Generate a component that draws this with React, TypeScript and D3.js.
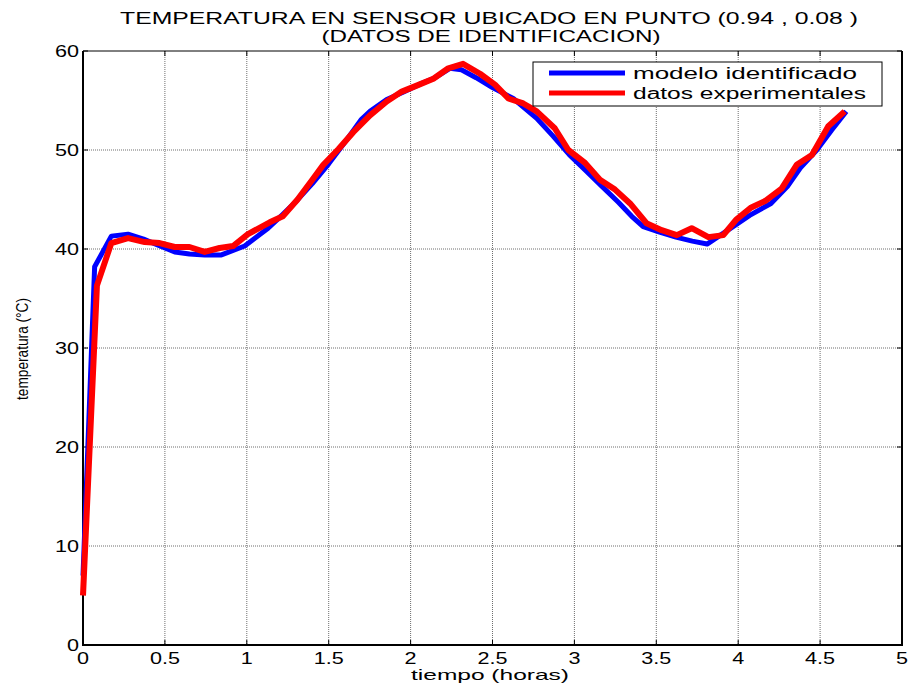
import React from "react";
import * as d3 from "d3";

// Time axis (hours) and temperature (°C) for the identified model
const modeloT: number[] = [
  0.0, 0.071, 0.173, 0.275, 0.37, 0.47, 0.56, 0.65, 0.743, 0.845, 0.987, 1.13,
  1.22, 1.3, 1.4, 1.5, 1.6, 1.7, 1.752, 1.854, 1.95, 2.05, 2.15, 2.24, 2.31,
  2.4, 2.5, 2.627, 2.77, 2.87, 2.97, 3.07, 3.17, 3.27, 3.35, 3.42, 3.52, 3.62,
  3.72, 3.81, 3.91, 4.07, 4.2, 4.3, 4.38, 4.48, 4.57, 4.66,
];
const modeloTemp: number[] = [
  7.0, 38.2, 41.3, 41.5, 41.0, 40.3, 39.7, 39.5, 39.4, 39.4, 40.3, 42.1,
  43.5, 44.8, 46.6, 48.6, 50.8, 53.1, 53.9, 55.1, 55.8, 56.6, 57.3, 58.25, 58.1,
  57.3, 56.3, 55.2, 53.2, 51.4, 49.5, 47.9, 46.3, 44.7, 43.3, 42.25, 41.7, 41.2,
  40.8, 40.5, 41.6, 43.4, 44.6, 46.3, 48.2, 50.0, 52.0, 53.9,
];

// Time axis (hours) and temperature (°C) for the experimental data
const datosT: number[] = [
  0.0, 0.085, 0.173, 0.275, 0.377, 0.468, 0.56, 0.65, 0.743, 0.834, 0.916,
  1.007, 1.14, 1.22, 1.31, 1.4, 1.467, 1.56, 1.65, 1.752, 1.854, 1.946, 2.037,
  2.139, 2.23, 2.32, 2.424, 2.515, 2.597, 2.688, 2.77, 2.88, 2.963, 3.065,
  3.156, 3.248, 3.34, 3.44, 3.533, 3.625, 3.716, 3.818, 3.909, 3.99, 4.08,
  4.17, 4.265, 4.357, 4.45, 4.55, 4.65,
];
const datosTemp: number[] = [
  5.0, 36.3, 40.6, 41.1, 40.7, 40.6, 40.2, 40.2, 39.7, 40.1, 40.3,
  41.5, 42.7, 43.3, 45.0, 47.0, 48.5, 50.1, 51.8, 53.5, 54.9, 55.9, 56.5,
  57.2, 58.25, 58.7, 57.7, 56.6, 55.2, 54.7, 53.9, 52.2, 50.0, 48.7,
  47.0, 46.0, 44.6, 42.6, 41.9, 41.4, 42.1, 41.2, 41.4, 43.0, 44.2,
  44.9, 46.1, 48.5, 49.5, 52.4, 53.9,
];

const xTicks: number[] = [0, 0.5, 1, 1.5, 2, 2.5, 3, 3.5, 4, 4.5, 5];
const yTicks: number[] = [0, 10, 20, 30, 40, 50, 60];

const titleLines: string[] = [
  "TEMPERATURA EN SENSOR UBICADO EN PUNTO (0.94 , 0.08 )",
  "(DATOS DE IDENTIFICACION)",
];
const legendLabels: string[] = ["modelo identificado", "datos experimentales"];
const seriesColors: string[] = ["#0000ff", "#ff0000"];

const W = 911;
const H = 686;
const left = 83;
const right = 902;
const top = 51;
const bottom = 645;
const FONT = "'Liberation Sans', Arial, Helvetica, sans-serif";
// tick labels are drawn horizontally widened
const LABEL_STRETCH = 1.35;

export default function App() {
  const x = d3.scaleLinear().domain([0, 5]).range([left, right]);
  const y = d3.scaleLinear().domain([0, 60]).range([bottom, top]);

  const line = d3
    .line<[number, number]>()
    .x((d) => x(d[0]))
    .y((d) => y(d[1]));

  const modelo: [number, number][] = modeloT.map((t, i) => [t, modeloTemp[i]]);
  const datos: [number, number][] = datosT.map((t, i) => [t, datosTemp[i]]);

  const tickLen = 5;
  const legX = 533;
  const legY = 62;
  const legW = 349;
  const legH = 44;

  return (
    <div style={{ position: "fixed", left: 0, top: 0 }}>
      <svg width={W} height={H} style={{ display: "block", background: "#fff" }}>
        <rect x={0} y={0} width={W} height={H} fill="#fff" />

        {/* grid */}
        <g stroke="#6e6e6e" strokeWidth={1} strokeDasharray="1 1">
          {xTicks.slice(1, -1).map((t) => (
            <line key={"gx" + t} x1={x(t)} x2={x(t)} y1={top} y2={bottom} />
          ))}
          {yTicks.slice(1, -1).map((t) => (
            <line key={"gy" + t} x1={left} x2={right} y1={y(t)} y2={y(t)} />
          ))}
        </g>

        {/* inward ticks on all four sides */}
        <g stroke="#000" strokeWidth={1}>
          {xTicks.map((t) => (
            <g key={"tx" + t}>
              <line x1={x(t)} x2={x(t)} y1={bottom} y2={bottom - tickLen} />
              <line x1={x(t)} x2={x(t)} y1={top} y2={top + tickLen} />
            </g>
          ))}
          {yTicks.map((t) => (
            <g key={"ty" + t}>
              <line x1={left} x2={left + tickLen} y1={y(t)} y2={y(t)} />
              <line x1={right} x2={right - tickLen} y1={y(t)} y2={y(t)} />
            </g>
          ))}
        </g>

        {/* axes box */}
        <line x1={left} x2={right} y1={top} y2={top} stroke="#000" strokeWidth={1} />
        <line x1={right} x2={right} y1={top} y2={bottom + 1} stroke="#000" strokeWidth={2} />
        <line x1={left} x2={left} y1={top} y2={bottom + 1} stroke="#000" strokeWidth={2} />
        <line x1={left - 1} x2={right + 1} y1={bottom} y2={bottom} stroke="#000" strokeWidth={2} />

        {/* series */}
        <path d={line(modelo) || ""} fill="none" stroke={seriesColors[0]} strokeWidth={5} strokeLinejoin="round" />
        <path d={line(datos) || ""} fill="none" stroke={seriesColors[1]} strokeWidth={6} strokeLinejoin="round" />

        {/* tick labels */}
        <g fontFamily={FONT} fontSize={16} fill="#000">
          {xTicks.map((t) => (
            <text
              key={"lx" + t}
              transform={`translate(${x(t)},${bottom + 19}) scale(${LABEL_STRETCH},1)`}
              textAnchor="middle"
            >
              {String(t)}
            </text>
          ))}
          {yTicks.map((t) => (
            <text
              key={"ly" + t}
              transform={`translate(${left - 4},${y(t) + 6}) scale(${LABEL_STRETCH},1)`}
              textAnchor="end"
            >
              {String(t)}
            </text>
          ))}
        </g>

        {/* title */}
        <g fontFamily={FONT} fontSize={16} fill="#000" textAnchor="middle">
          <text x={489} y={24} textLength={738} lengthAdjust="spacingAndGlyphs">
            {titleLines[0]}
          </text>
          <text x={491} y={42} textLength={339} lengthAdjust="spacingAndGlyphs">
            {titleLines[1]}
          </text>
        </g>

        {/* axis labels */}
        <text
          x={490}
          y={680}
          fontFamily={FONT}
          fontSize={15}
          textAnchor="middle"
          textLength={158}
          lengthAdjust="spacingAndGlyphs"
        >
          tiempo (horas)
        </text>
        <text
          transform={`translate(28,349) rotate(-90)`}
          fontFamily={FONT}
          fontSize={16}
          textAnchor="middle"
          textLength={102}
          lengthAdjust="spacingAndGlyphs"
        >
          temperatura (°C)
        </text>

        {/* legend */}
        <rect x={legX} y={legY} width={legW} height={legH} fill="#fff" stroke="#000" strokeWidth={1} />
        {legendLabels.map((lab, i) => (
          <g key={lab}>
            <line
              x1={legX + 16}
              x2={legX + 92}
              y1={legY + 11 + i * 20}
              y2={legY + 11 + i * 20}
              stroke={seriesColors[i]}
              strokeWidth={5}
            />
            <text
              x={legX + 100}
              y={legY + 17 + i * 20}
              fontFamily={FONT}
              fontSize={16}
              textLength={i === 0 ? 224 : 233}
              lengthAdjust="spacingAndGlyphs"
            >
              {lab}
            </text>
          </g>
        ))}
      </svg>
    </div>
  );
}
